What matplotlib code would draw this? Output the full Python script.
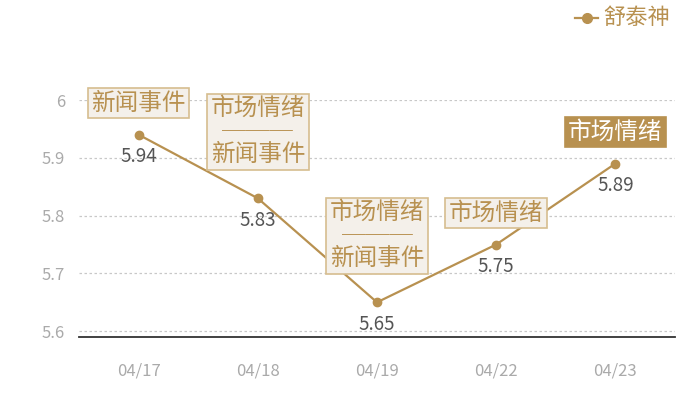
import matplotlib.pyplot as plt

plt.rcParams['font.family'] = ['Noto Sans CJK SC', 'DejaVu Sans']

# data
dates = ["04/17", "04/18", "04/19", "04/22", "04/23"]
values = [5.94, 5.83, 5.65, 5.75, 5.89]
tags = ["新闻事件", "市场情绪\n───\n新闻事件", "市场情绪\n───\n新闻事件", "市场情绪", "市场情绪"]
series_name = "舒泰神"
yticks = [5.6, 5.7, 5.8, 5.9, 6.0]
ytick_labels = ["5.6", "5.7", "5.8", "5.9", "6"]

gold = "#b89150"
box_face = "#f4f0ea"
box_edge = "#d6bd8f"

fig = plt.figure(figsize=(7, 4), dpi=100)
ax = fig.add_axes([79 / 700, 63 / 400, 596 / 700, 237 / 400])

x = list(range(len(dates)))
ax.plot(x, values, color=gold, lw=1.6, marker="o", ms=6, zorder=3, clip_on=False)

ax.set_xlim(-0.5, len(dates) - 0.5)
ax.set_ylim(5.59, 6.0)

# grid
for yv in yticks:
    ax.axhline(yv, color="#c8c8c8", lw=0.9, ls=(0, (2, 2)), zorder=1)
ax.set_yticks(yticks)
ax.set_yticklabels(ytick_labels)
ax.set_xticks(x)
ax.set_xticklabels(dates)
ax.tick_params(length=0, colors="#aaaaaa", labelsize=12)
ax.tick_params(axis="x", pad=18)
ax.tick_params(axis="y", pad=10)
for s in ["top", "right", "left"]:
    ax.spines[s].set_visible(False)
ax.spines["bottom"].set_color("#333333")
ax.spines["bottom"].set_linewidth(1.3)

# value labels
for xi, v in zip(x, values):
    ax.annotate(f"{v:.2f}", (xi, v), xytext=(0, -22), textcoords="offset pixels",
                ha="center", va="center", fontsize=13.5, color="#555555", zorder=4)

# tag boxes
gaps = [20, 32, 32, 20, 20]
for i, (xi, v, t) in enumerate(zip(x, values, tags)):
    last = i == len(x) - 1
    ax.annotate(t, (xi, v), xytext=(0, gaps[i]), textcoords="offset pixels",
                ha="center", va="bottom", fontsize=17, linespacing=1.0,
                color="white" if last else gold, zorder=5,
                bbox=dict(boxstyle="square,pad=0.15",
                          fc=gold if last else box_face,
                          ec=gold if last else box_edge, lw=1.2))

# legend
fig.lines.append(plt.Line2D([575 / 700, 598 / 700], [382 / 400, 382 / 400],
                            transform=fig.transFigure, color=gold, lw=1.6))
fig.lines.append(plt.Line2D([586.5 / 700], [382 / 400], transform=fig.transFigure,
                            color=gold, marker="o", ms=7))
fig.text(603 / 700, 382 / 400, series_name, ha="left", va="center",
         fontsize=16, color=gold)

fig.savefig("out.png", dpi=100)
